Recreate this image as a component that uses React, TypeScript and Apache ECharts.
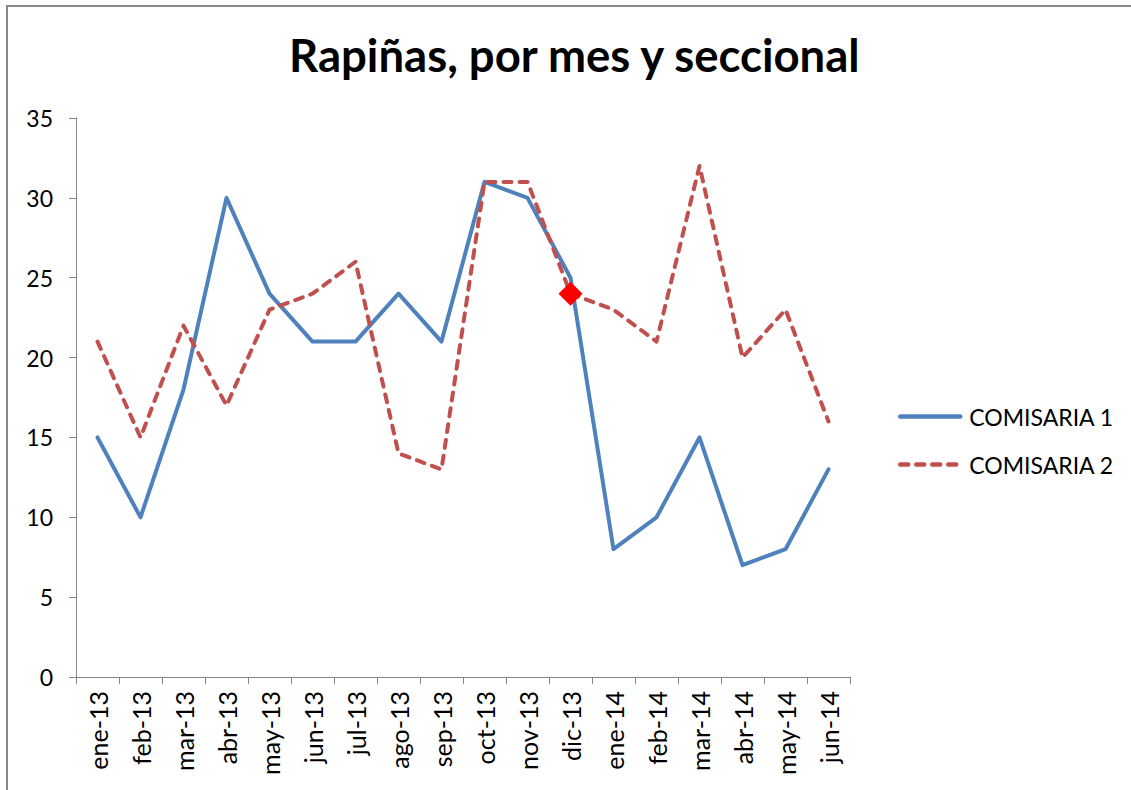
import React, { useEffect, useRef } from "react";
import * as echarts from "echarts";

const categories = [
  "ene-13", "feb-13", "mar-13", "abr-13", "may-13", "jun-13", "jul-13", "ago-13", "sep-13",
  "oct-13", "nov-13", "dic-13", "ene-14", "feb-14", "mar-14", "abr-14", "may-14", "jun-14",
];
const comisaria1 = [15, 10, 18, 30, 24, 21, 21, 24, 21, 31, 30, 25, 8, 10, 15, 7, 8, 13];
const comisaria2 = [21, 15, 22, 17, 23, 24, 26, 14, 13, 31, 31, 24, 23, 21, 32, 20, 23, 16];
const highlightIndex = 11;
const titleText = "Rapiñas, por mes y seccional";
const seriesNames = ["COMISARIA 1", "COMISARIA 2"];

const FONT = "Lato, 'Open Sans', sans-serif";

export default function App() {
  const ref = useRef<HTMLDivElement>(null);
  useEffect(() => {
    document.body.style.margin = "0";
    const chart = echarts.init(ref.current!, null, { renderer: "svg" });
    const axisColor = "#868686";
    chart.setOption({
      animation: false,
      backgroundColor: "#ffffff",
      textStyle: { fontFamily: FONT },
      title: {
        text: titleText,
        left: 284,
        top: 26,
        textStyle: { fontFamily: FONT, fontWeight: "bold", fontSize: 45.5, color: "#000" },
      },
      graphic: [
        {
          type: "rect",
          shape: { x: 7, y: 6, width: 1140, height: 800 },
          style: { fill: "none", stroke: "#888888", lineWidth: 2 },
          silent: true,
        },
      ],
      legend: {
        orient: "vertical",
        left: 893,
        top: 400,
        itemWidth: 60,
        itemHeight: 14,
        itemGap: 25,
        itemStyle: { opacity: 0 },
        lineStyle: { width: 4.5, cap: "round" },
        textStyle: { fontFamily: FONT, fontSize: 23, color: "#000", padding: [0, 0, 0, 4] },
        data: seriesNames,
      },
      grid: { left: 76, right: 281, top: 118, bottom: 113, containLabel: false },
      xAxis: {
        type: "category",
        data: categories,
        boundaryGap: true,
        axisLine: { lineStyle: { color: axisColor, width: 1 } },
        axisTick: { show: true, length: 7, lineStyle: { color: axisColor } },
        axisLabel: {
          rotate: 90,
          margin: 14,
          fontSize: 25,
          color: "#000",
          fontFamily: FONT,
          interval: 0,
        },
        splitLine: { show: false },
      },
      yAxis: {
        type: "value",
        min: 0,
        max: 35,
        interval: 5,
        axisLine: { show: true, lineStyle: { color: axisColor, width: 1 } },
        axisTick: { show: true, length: 7, lineStyle: { color: axisColor } },
        axisLabel: { fontSize: 23, color: "#000", fontFamily: FONT, margin: 23 },
        splitLine: { show: false },
      },
      series: [
        {
          name: seriesNames[0],
          type: "line",
          data: comisaria1,
          symbol: "none",
          lineStyle: { color: "#4F81BD", width: 4, cap: "round", join: "round" },
          itemStyle: { color: "#4F81BD" },
          z: 2,
        },
        {
          name: seriesNames[1],
          type: "line",
          data: comisaria2,
          symbol: "none",
          lineStyle: { color: "#C0504D", width: 4, type: [8, 8], cap: "round", join: "round" },
          itemStyle: { color: "#C0504D" },
          z: 3,
          markPoint: {
            symbol: "diamond",
            symbolSize: 24,
            label: { show: false },
            itemStyle: { color: "#FF0000" },
            data: [{ coord: [highlightIndex, comisaria2[highlightIndex]] }],
          },
        },
      ],
    });
    return () => chart.dispose();
  }, []);
  return <div ref={ref} style={{ width: 1131, height: 790 }} />;
}
